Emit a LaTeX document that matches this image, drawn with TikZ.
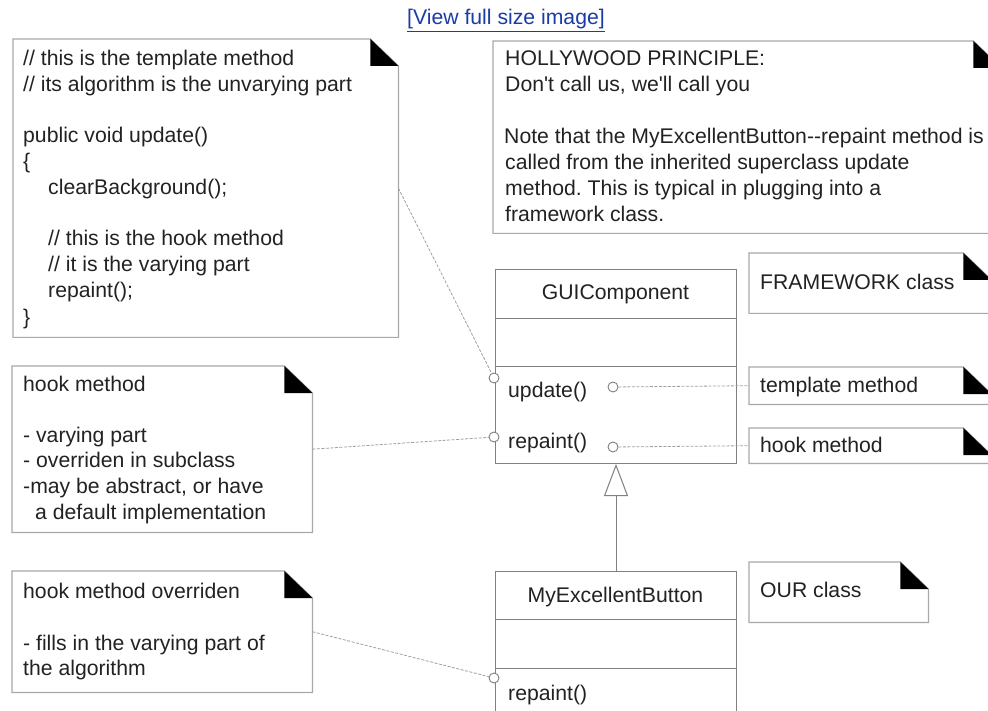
\documentclass[tikz,border=0pt]{standalone}
\usepackage{fontspec}
\setmainfont{Liberation Sans}
\usetikzlibrary{arrows.meta,calc}
\frenchspacing
\definecolor{txtc}{HTML}{222222}
\definecolor{notegray}{HTML}{A8A8A8}
\definecolor{boxgray}{HTML}{808080}
\definecolor{conngray}{HTML}{A0A0A0}
\definecolor{linkblue}{HTML}{1A3CA8}
\newcommand\mynote[5]{%
  \node[inner sep=0, minimum width=#4pt-#2pt, minimum height=#5pt-#3pt, anchor=north west] (#1) at (#2,#3) {};
  \draw[noteline] (#1.north west) -- ([xshift=-28pt]#1.north east) -- ([yshift=-27pt]#1.north east) -- (#1.south east) -- (#1.south west) -- cycle;
  \fill[black] ([xshift=-28pt]#1.north east) -- ([xshift=-28pt,yshift=-27pt]#1.north east) -- ([yshift=-27pt]#1.north east) -- cycle;
}
\begin{document}
\begin{tikzpicture}[x=1pt,y=-1pt,
  font=\fontsize{21.2}{25.8}\selectfont,
  tline/.style={anchor=base west, inner sep=0, text=txtc},
  ttitle/.style={anchor=base, inner sep=0, text=txtc},
  noteline/.style={draw=notegray, line width=1.2pt, fill=white},
  compart/.style={draw=boxgray, line width=1pt, inner sep=0, minimum width=241pt, anchor=north west},
  port/.style={circle, draw=boxgray, fill=white, line width=0.9pt, inner sep=0, minimum size=10pt},
  conn/.style={draw=conngray, line width=0.8pt, dash pattern=on 3pt off 1.5pt}]
\useasboundingbox (0,0) rectangle (988,711);
\clip (0,0) rectangle (988,711);
\fill[white] (0,0) rectangle (988,711);

% link
\node[anchor=base, inner sep=0, text=linkblue] (link) at (506,25) {\underline{[View full size image]}};

% notes
\mynote{nTpl}{13}{39}{398}{337}
\mynote{nHolly}{493}{41}{1001}{233}
\mynote{nFw}{749}{253}{991}{313}
\mynote{nTm}{749}{367}{991}{404}
\mynote{nHm}{749}{428}{991}{463}
\mynote{nOur}{749}{562}{928}{622}
\mynote{nHook}{12}{366}{312}{532}
\mynote{nOver}{12}{571}{312}{692}

% note texts
\foreach \linex/\liney/\linetext [count=\i] in {
  23/66/{// this is the template method},
  23/92/{// its algorithm is the unvarying part},
  23/143/{public void update()},
  23/169/{\{},
  48/195/{clearBackground();},
  48/246/{// this is the hook method},
  48/272/{// it is the varying part},
  48/298/{repaint();},
  23/324/{\}}}
  \node[tline] (tA\i) at (\linex,\liney) {\linetext};

\foreach \linex/\liney/\linetext [count=\i] in {
  505/66/{HOLLYWOOD PRINCIPLE:},
  505/92/{Don\textquotesingle t call us, we\textquotesingle ll call you},
  504/144/{Note that the MyExcellentButton-{}-repaint method is},
  505/170/{called from the inherited superclass update},
  505/196/{method. This is typical in plugging into a},
  505/222/{framework class.}}
  \node[tline] (tB\i) at (\linex,\liney) {\linetext};

\foreach \linex/\liney/\linetext [count=\i] in {
  23/391/{hook method},
  23/442/{- varying part},
  23/467/{- overriden in subclass},
  23/493/{-may be abstract, or have},
  35/519/{a default implementation}}
  \node[tline] (tC\i) at (\linex,\liney) {\linetext};

\foreach \linex/\liney/\linetext [count=\i] in {
  23/598/{hook method overriden},
  23/650/{- fills in the varying part of},
  23/675/{the algorithm}}
  \node[tline] (tD\i) at (\linex,\liney) {\linetext};

\node[tline] (tFw) at (760,290) {FRAMEWORK class};
\node[tline] (tTm) at (760,392) {template method};
\node[tline] (tHm) at (760,452) {hook method};
\node[tline] (tOur) at (760,597) {OUR class};

% GUIComponent class
\node[compart, minimum height=49pt] (gTitle) at (495,269) {};
\node[compart, minimum height=48pt] (gAttr) at (495,318) {};
\node[compart, minimum height=97pt] (gOps) at (495,366) {};
\node[ttitle] (gName) at (615.5,300) {GUIComponent};
\node[tline] (gUpd) at (508,397) {update()};
\node[tline] (gRep) at (508,448) {repaint()};

% MyExcellentButton class
\node[compart, minimum height=48pt] (mTitle) at (495,571) {};
\node[compart, minimum height=49pt] (mAttr) at (495,619) {};
\node[compart, minimum height=80pt] (mOps) at (495,668) {};
\node[ttitle] (mName) at (615.5,602) {MyExcellentButton};
\node[tline] (mRep) at (508,700) {repaint()};

% generalization
\draw[draw=boxgray, line width=1pt, -{Triangle[open, length=32pt, width=24pt]}] (mTitle.north) -- (gOps.south);

% ports
\node[port] (c1) at (494,378) {};
\node[port] (c2) at (494,437) {};
\node[port] (c3) at (613,387) {};
\node[port] (c4) at (613,447) {};
\node[port] (c5) at (494,678) {};

% connectors
\draw[conn] (nTpl.east) -- (c1);
\draw[conn] (nHook.east) -- (c2);
\draw[conn] (nOver.east) -- (c5);
\draw[conn] (c3) -- (nTm.west);
\draw[conn] (c4) -- (nHm.west);
\end{tikzpicture}
\end{document}
